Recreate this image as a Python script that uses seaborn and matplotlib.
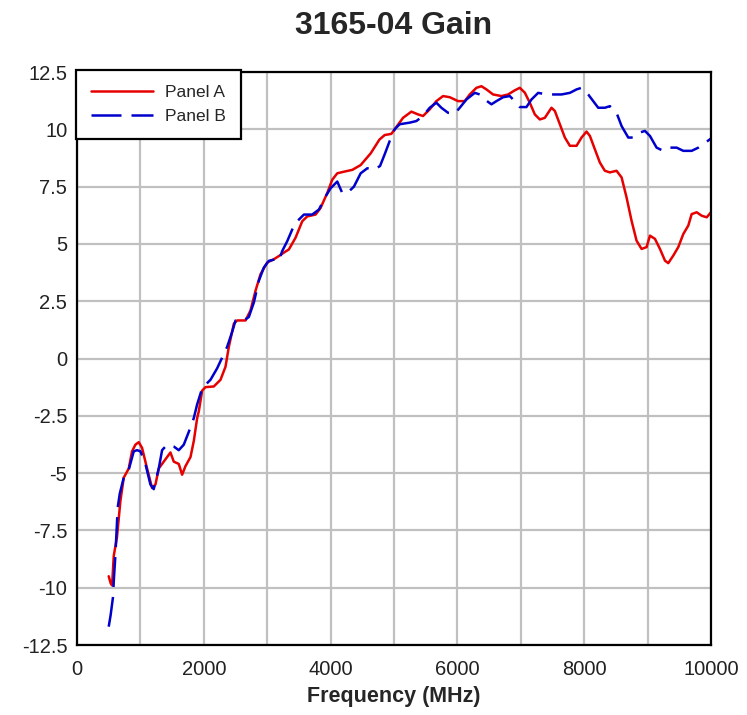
import matplotlib
matplotlib.use("Agg")
import matplotlib.pyplot as plt
import seaborn as sns
import pandas as pd

# values
freq_a = [500, 530, 553, 580, 630, 685, 737, 816, 868, 921, 974, 1026, 1105, 1184, 1237,
          1289, 1368, 1474, 1526, 1605, 1658, 1710, 1790, 1842, 1895, 1921, 1974, 2026,
          2158, 2263, 2342, 2395, 2474, 2526, 2658, 2737, 2816, 2895, 3000, 3105, 3184,
          3263, 3342, 3447, 3553, 3632, 3763, 3842, 3947, 4026, 4105, 4210, 4342, 4474,
          4632, 4770, 4853, 4958, 5037, 5142, 5274, 5379, 5458, 5563, 5668, 5774, 5879,
          6010, 6116, 6195, 6300, 6379, 6458, 6563, 6695, 6800, 6905, 6984, 7063, 7142,
          7221, 7300, 7379, 7484, 7537, 7616, 7695, 7774, 7879, 7958, 8037, 8090, 8168,
          8247, 8326, 8405, 8510, 8590, 8668, 8747, 8826, 8905, 8984, 9037, 9116, 9195,
          9274, 9326, 9405, 9484, 9563, 9642, 9695, 9774, 9853, 9932, 10000]
gain_a = [-9.5, -9.8, -9.9, -8.6, -7.8, -6.2, -5.2, -4.8, -4.05, -3.76, -3.65, -3.9, -4.8,
          -5.65, -5.5, -4.8, -4.5, -4.1, -4.5, -4.6, -5.07, -4.7, -4.3, -3.6, -2.6, -2.3,
          -1.4, -1.25, -1.22, -0.93, -0.36, 0.51, 1.52, 1.66, 1.66, 2.1, 2.96, 3.68, 4.19,
          4.33, 4.47, 4.62, 4.76, 5.27, 5.99, 6.2, 6.28, 6.57, 7.22, 7.8, 8.08, 8.15, 8.23,
          8.44, 8.95, 9.55, 9.75, 9.8, 10.1, 10.5, 10.77, 10.65, 10.58, 10.87, 11.23,
          11.45, 11.4, 11.23, 11.23, 11.52, 11.81, 11.88, 11.74, 11.52, 11.45, 11.52, 11.7,
          11.81, 11.6, 11.16, 10.65, 10.43, 10.5, 10.94, 10.8, 10.22, 9.64, 9.28, 9.28,
          9.64, 9.9, 9.71, 9.13, 8.55, 8.19, 8.12, 8.19, 7.9, 7.03, 6.01, 5.14, 4.78, 4.86,
          5.36, 5.22, 4.78, 4.27, 4.16, 4.49, 4.86, 5.43, 5.8, 6.3, 6.38, 6.23, 6.16, 6.38]

freq_b = [500, 530, 568, 580, 605, 642, 674, 737, 816, 895, 947, 1000, 1079, 1158, 1210,
          1289, 1342, 1421, 1526, 1605, 1684, 1763, 1842, 1895, 1974, 2079, 2105, 2210,
          2368, 2447, 2500, 2632, 2710, 2790, 2868, 2947, 3026, 3132, 3184, 3237, 3316,
          3395, 3474, 3579, 3710, 3816, 3921, 4000, 4105, 4184, 4263, 4368, 4474, 4579,
          4684, 4780, 4853, 4932, 5010, 5089, 5247, 5352, 5458, 5563, 5668, 5747, 5853,
          5958, 6037, 6142, 6274, 6353, 6432, 6537, 6616, 6721, 6826, 6879, 6984, 7089,
          7168, 7274, 7405, 7510, 7642, 7774, 7879, 7958, 8063, 8142, 8221, 8326, 8405,
          8510, 8590, 8695, 8774, 8879, 8958, 9037, 9142, 9247, 9353, 9458, 9563, 9695,
          9800, 9879, 10000]
gain_b = [-11.7, -11.2, -10.4, -9.7, -8.6, -6.5, -5.9, -5.2, -4.85, -4.05, -4.0, -4.05,
          -4.6, -5.5, -5.7, -4.8, -4.0, -3.76, -3.84, -4.0, -3.76, -3.2, -2.6, -2.0, -1.3,
          -1.0, -0.93, -0.43, 0.51, 1.16, 1.66, 1.66, 1.81, 2.45, 3.39, 3.97, 4.26, 4.33,
          4.26, 4.69, 5.12, 5.63, 5.99, 6.28, 6.28, 6.5, 7.07, 7.43, 7.72, 7.22, 7.22, 7.5,
          8.08, 8.3, 8.23, 8.4, 8.91, 9.49, 10.0, 10.22, 10.29, 10.36, 10.58, 10.94, 11.16,
          10.94, 10.72, 10.68, 10.94, 11.3, 11.59, 11.52, 11.3, 11.09, 11.23, 11.4, 11.45,
          11.3, 10.97, 10.97, 11.3, 11.59, 11.52, 11.52, 11.52, 11.59, 11.74, 11.81, 11.52,
          11.23, 10.94, 10.94, 11.01, 10.72, 10.14, 9.64, 9.64, 9.86, 9.93, 9.71, 9.2, 9.06,
          9.2, 9.2, 9.06, 9.06, 9.2, 9.35, 9.6]

x_ticks = [0, 2000, 4000, 6000, 8000, 10000]
y_ticks = [-12.5, -10, -7.5, -5, -2.5, 0, 2.5, 5, 7.5, 10, 12.5]
y_tick_labels = ["-12.5", "-10", "-7.5", "-5", "-2.5", "0", "2.5", "5", "7.5", "10", "12.5"]

df_a = pd.DataFrame({"freq": freq_a, "gain": gain_a})
df_b = pd.DataFrame({"freq": freq_b, "gain": gain_b})

sns.set_theme(style="white")
plt.rcParams["font.family"] = ["Liberation Sans", "DejaVu Sans"]

fig = plt.figure(figsize=(7.47, 7.15), dpi=100)
ax = fig.add_axes([0.1031, 0.0979, 0.8487, 0.8014])

sns.lineplot(data=df_a, x="freq", y="gain", ax=ax, color="#e60000", lw=1.8,
             label="Panel A")
sns.lineplot(data=df_b, x="freq", y="gain", ax=ax, color="#0000cc", lw=1.8,
             linestyle=(0, (12, 4)), label="Panel B")

ax.set_xlim(0, 10000)
ax.set_ylim(-12.5, 12.5)
ax.set_xticks(x_ticks)
ax.set_xticks(range(0, 10001, 1000), minor=True)
ax.set_yticks(y_ticks)
ax.set_yticklabels(y_tick_labels)
ax.grid(True, which="both", color="#c0c0c0", lw=1.6)
ax.set_axisbelow(True)
ax.tick_params(axis="both", which="both", length=0, labelsize=14.5, colors="#222222")
ax.tick_params(axis="y", pad=7)
ax.tick_params(axis="x", pad=11)
for sp in ax.spines.values():
    sp.set_color("black")
    sp.set_linewidth(1.6)

ax.set_xlabel("Frequency (MHz)", fontsize=15.5, fontweight="bold", labelpad=5)
ax.set_ylabel("")
fig.text(0.527, 0.964, "3165-04 Gain", ha="center", va="center",
         fontsize=23, fontweight="bold")

leg = ax.legend(loc="upper left", bbox_to_anchor=(-0.002, 1.003), fontsize=12.5,
                fancybox=False, framealpha=1, edgecolor="black", borderaxespad=0,
                handlelength=3.6, handletextpad=0.7, borderpad=0.85, labelspacing=0.5)
leg.get_frame().set_linewidth(1.6)

fig.savefig("out.png", dpi=100, facecolor="white")
